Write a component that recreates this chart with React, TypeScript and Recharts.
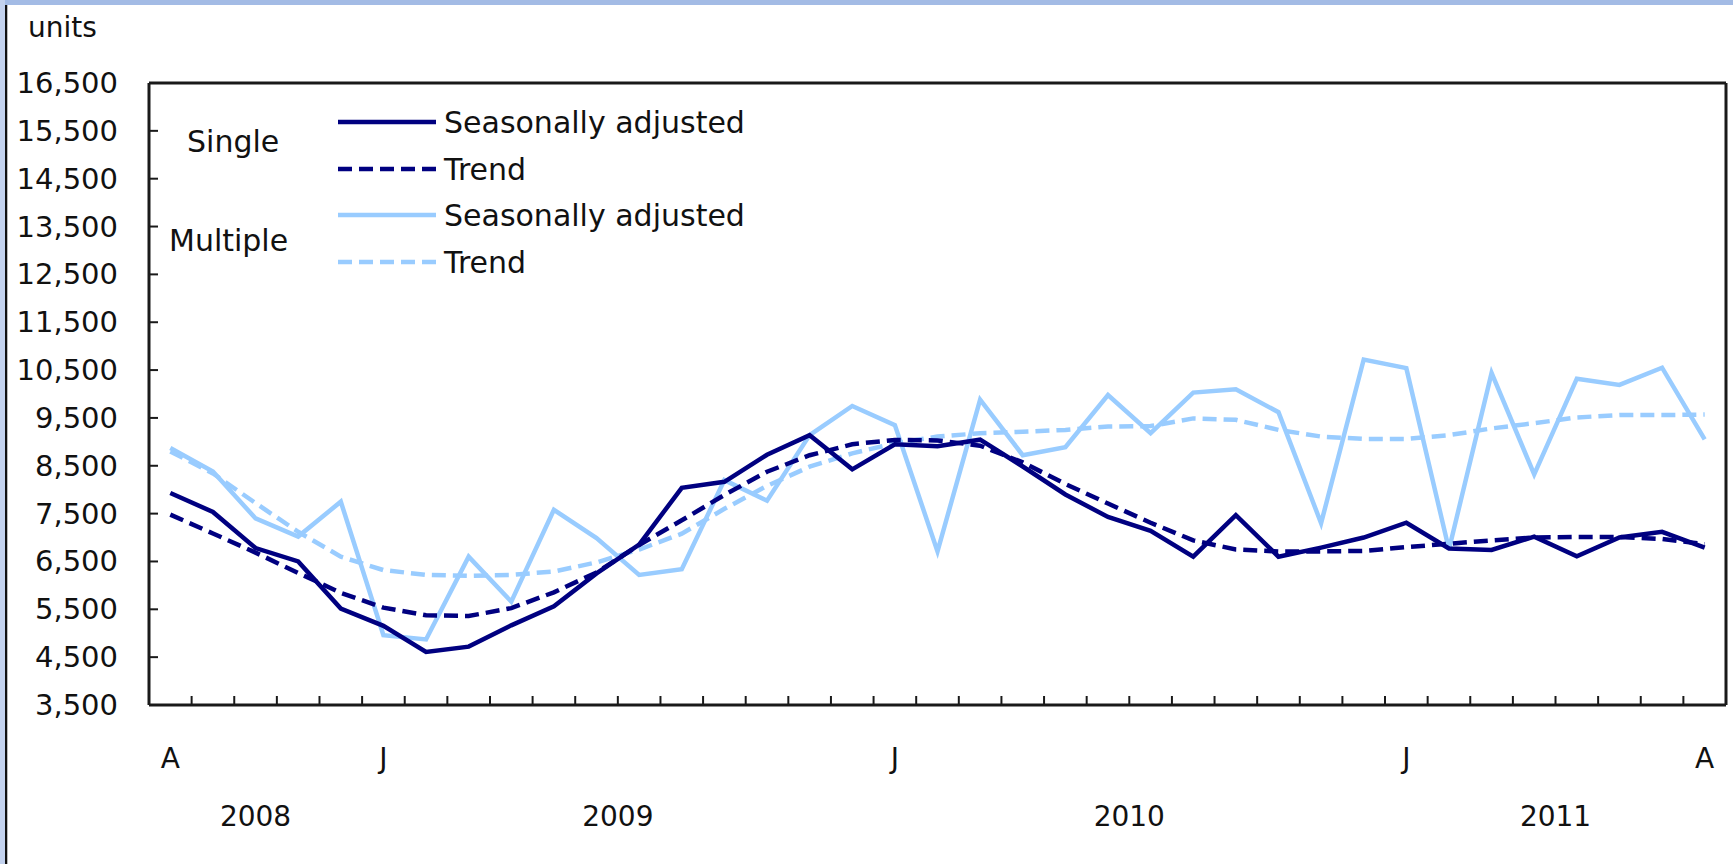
import { LineChart, Line, XAxis, YAxis, ReferenceLine } from 'recharts'

const months = [
  '2008-08', '2008-09', '2008-10', '2008-11', '2008-12',
  '2009-01', '2009-02', '2009-03', '2009-04', '2009-05', '2009-06',
  '2009-07', '2009-08', '2009-09', '2009-10', '2009-11', '2009-12',
  '2010-01', '2010-02', '2010-03', '2010-04', '2010-05', '2010-06',
  '2010-07', '2010-08', '2010-09', '2010-10', '2010-11', '2010-12',
  '2011-01', '2011-02', '2011-03', '2011-04', '2011-05', '2011-06',
  '2011-07', '2011-08',
]

const monthTickLabels: Record<string, string> = {
  '2008-08': 'A',
  '2009-01': 'J',
  '2010-01': 'J',
  '2011-01': 'J',
  '2011-08': 'A',
}

const years = ['2008', '2009', '2010', '2011']

const singleSeasonallyAdjusted = [
  7930, 7535, 6780, 6500, 5515, 5155, 4610, 4720, 5165, 5565, 6250, 6850,
  8040, 8165, 8730, 9140, 8425, 8950, 8910, 9045, 8485, 7900, 7430, 7140,
  6600, 7470, 6600, 6790, 7000, 7310, 6770, 6740, 7020, 6610, 7000, 7120, 6790,
]

const singleTrend = [
  7480, 7085, 6685, 6260, 5845, 5535, 5375, 5360, 5525, 5855, 6270, 6845,
  7360, 7890, 8375, 8720, 8950, 9040, 9030, 8920, 8570, 8120, 7710, 7310,
  6940, 6750, 6710, 6710, 6720, 6800, 6870, 6940, 7000, 7010, 7010, 6970, 6860,
]

const multipleSeasonallyAdjusted = [
  8870, 8380, 7400, 7020, 7750, 4960, 4870, 6600, 5660, 7580, 6990, 6220,
  6340, 8200, 7770, 9140, 9750, 9350, 6710, 9880, 8720, 8890, 9980, 9180,
  10030, 10100, 9620, 7300, 10720, 10540, 6750, 10440, 8320, 10320, 10190, 10550, 9050,
]

const multipleTrend = [
  8800, 8340, 7720, 7120, 6600, 6320, 6220, 6200, 6220, 6290, 6480, 6750,
  7080, 7600, 8080, 8480, 8760, 8970, 9110, 9180, 9210, 9250, 9320, 9330,
  9490, 9460, 9250, 9110, 9060, 9060, 9140, 9280, 9390, 9510, 9560, 9560, 9570,
]

const yTicks = [3500, 4500, 5500, 6500, 7500, 8500, 9500, 10500, 11500, 12500, 13500, 14500, 15500, 16500]

const DARK = '#000080'
const LIGHT = '#99ccff'
const AXIS = '#1a1a1a'
const FONT = '"DejaVu Sans", Verdana, sans-serif'

const data = months.map((month, i) => ({
  month,
  idx: i,
  singleSA: singleSeasonallyAdjusted[i],
  singleTrend: singleTrend[i],
  multipleSA: multipleSeasonallyAdjusted[i],
  multipleTrend: multipleTrend[i],
}))

// tick marks sit between months, labels on months, years centred on their months
const boundaryTicks = months.slice(1).map((_, i) => i + 0.5)
const labelTicks = months.map((m, i) => (monthTickLabels[m] ? i : -1)).filter((v) => v >= 0)
const yearTicks = years.map((y) => {
  const idxs = months.map((m, i) => (m.startsWith(y) ? i : -1)).filter((v) => v >= 0)
  return { pos: idxs.reduce((a, b) => a + b, 0) / idxs.length, label: y }
})
const xTicks = Array.from(new Set([...boundaryTicks, ...labelTicks, ...yearTicks.map((t) => t.pos)])).sort((a, b) => a - b)

const series = [
  { key: 'multipleTrend', name: 'Trend', color: LIGHT, dash: '14 7' },
  { key: 'multipleSA', name: 'Seasonally adjusted', color: LIGHT, dash: undefined },
  { key: 'singleTrend', name: 'Trend', color: DARK, dash: '14 7' },
  { key: 'singleSA', name: 'Seasonally adjusted', color: DARK, dash: undefined },
]
const legendOrder = ['singleSA', 'singleTrend', 'multipleSA', 'multipleTrend']

function XTick(props: any) {
  const { x, y, payload } = props
  const v = payload.value
  const isBoundary = boundaryTicks.includes(v)
  const monthLabel = Number.isInteger(v) ? monthTickLabels[months[v]] : undefined
  const year = yearTicks.find((t) => t.pos === v)
  return (
    <g>
      {isBoundary && <line x1={x} x2={x} y1={y} y2={y - 9} stroke={AXIS} strokeWidth={2} />}
      {monthLabel && (
        <text x={x} y={y + 63} textAnchor="middle" fontSize={28} fontFamily={FONT} fill="#111">
          {monthLabel}
        </text>
      )}
      {year && (
        <text x={x} y={y + 121} textAnchor="middle" fontSize={28} fontFamily={FONT} fill="#111">
          {year.label}
        </text>
      )}
    </g>
  )
}

function YTick(props: any) {
  const { x, y, payload } = props
  return (
    <g>
      <line x1={x} x2={x + 9} y1={y} y2={y} stroke={AXIS} strokeWidth={2} />
      <text x={x - 31} y={y + 10} textAnchor="end" fontSize={29} fontFamily={FONT} fill="#111">
        {payload.value.toLocaleString('en-US')}
      </text>
    </g>
  )
}

function LegendBox() {
  const rowY = [122, 169, 215, 262]
  return (
    <>
      <div style={{ position: 'absolute', left: 187, top: 124, fontSize: 30, lineHeight: '36px' }}>Single</div>
      <div style={{ position: 'absolute', left: 169, top: 223, fontSize: 30, lineHeight: '36px' }}>Multiple</div>
      {legendOrder.map((k, i) => {
        const s = series.find((d) => d.key === k)!
        return (
          <div
            key={k}
            style={{ position: 'absolute', left: 338, top: rowY[i] - 18, height: 36, display: 'flex', alignItems: 'center' }}
          >
            <svg width={98} height={8} style={{ display: 'block' }}>
              <line x1={0} x2={98} y1={4} y2={4} stroke={s.color} strokeWidth={4.5} strokeDasharray={s.dash} />
            </svg>
            <span style={{ marginLeft: 8, fontSize: 30 }}>{s.name}</span>
          </div>
        )
      })}
    </>
  )
}

export default function App() {
  return (
    <div
      style={{
        position: 'absolute',
        left: 0,
        top: 0,
        width: 1733,
        height: 864,
        background: '#fff',
        fontFamily: FONT,
        color: '#111',
        overflow: 'hidden',
      }}
    >
      <div style={{ position: 'absolute', left: 0, top: 0, width: 1733, height: 5, background: '#a3bbe5' }} />
      <div style={{ position: 'absolute', left: 0, top: 0, width: 5, height: 864, background: '#c3d2ee' }} />
      <div style={{ position: 'absolute', left: 5, top: 5, width: 2, height: 859, background: '#111' }} />
      <div style={{ position: 'absolute', left: 7, top: 5, width: 1, height: 859, background: '#bbb' }} />
      <div style={{ position: 'absolute', left: 28, top: 10, fontSize: 28, lineHeight: '36px' }}>units</div>

      <LineChart width={1733} height={864} data={data} margin={{ top: 83, right: 7, bottom: 0, left: 0 }}>
        <XAxis
          dataKey="idx"
          type="number"
          domain={[-0.5, months.length - 0.5]}
          ticks={xTicks}
          interval={0}
          height={159}
          tickSize={0}
          tickMargin={0}
          tickLine={false}
          axisLine={{ stroke: AXIS, strokeWidth: 3 }}
          tick={<XTick />}
        />
        <YAxis
          domain={[3500, 16500]}
          ticks={yTicks}
          interval={0}
          width={149}
          tickSize={0}
          tickMargin={0}
          tickLine={false}
          axisLine={{ stroke: AXIS, strokeWidth: 3 }}
          tick={<YTick />}
        />
        <ReferenceLine y={16500} stroke={AXIS} strokeWidth={3} />
        <ReferenceLine x={months.length - 0.5} stroke={AXIS} strokeWidth={3} />
        {series.map((s) => (
          <Line
            key={s.key}
            dataKey={s.key}
            name={s.name}
            type="linear"
            stroke={s.color}
            strokeWidth={4.5}
            strokeDasharray={s.dash}
            dot={false}
            activeDot={false}
            isAnimationActive={false}
          />
        ))}
      </LineChart>

      <LegendBox />
    </div>
  )
}
